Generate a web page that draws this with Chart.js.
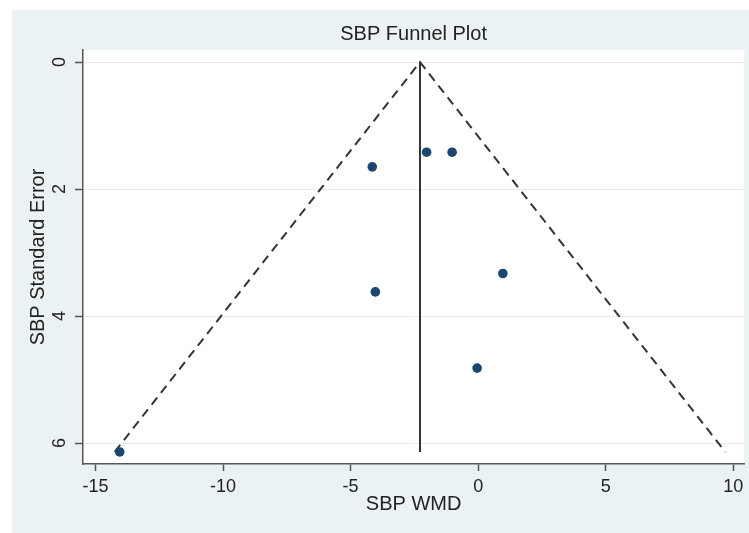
<!DOCTYPE html>
<html>
<head>
<meta charset="utf-8">
<title>SBP Funnel Plot</title>
<script src="https://cdn.jsdelivr.net/npm/chart.js@4.4.1/dist/chart.umd.min.js"></script>
<style>
  html, body { margin: 0; padding: 0; background: #fff; }
  canvas { display: block; }
</style>
</head>
<body>
<canvas id="funnelChart" width="749" height="533"></canvas>
<script>
// studies: weighted mean difference and its standard error
const wmd = [-4.15, -2.02, -1.02, -4.03, 0.97, -0.04, -14.05];
const se  = [1.65, 1.42, 1.42, 3.62, 3.33, 4.82, 6.14];

// pooled estimate line
const pooledX = [-2.28, -2.28];
const pooledY = [0, 6.14];

// pseudo 95% limits: left end, apex, right end
const limitX = [-14.25, -2.28, 9.69];
const limitY = [6.14, 0, 6.14];

const xTicks = [-15, -10, -5, 0, 5, 10];
const yTicks = [0, 2, 4, 6];

Chart.defaults.font.family = '"Liberation Sans", Arial, sans-serif';
Chart.defaults.color = '#222';

// light blue graph region with a white plot region, like Stata's s2color
const backdrop = {
    id: 'backdrop',
    beforeDraw(chart) {
        const { ctx, chartArea: a } = chart;
        ctx.save();
        ctx.fillStyle = '#ffffff';
        ctx.fillRect(0, 0, chart.width, chart.height);
        ctx.fillStyle = '#eaf2f3';
        ctx.fillRect(12, 10, chart.width - 12, chart.height - 10);
        ctx.fillStyle = '#ffffff';
        ctx.fillRect(a.left, a.top, a.right - a.left, a.bottom - a.top);
        ctx.restore();
    }
};

const ctx = document.getElementById('funnelChart').getContext('2d');
const funnelChart = new Chart(ctx, {
    type: 'scatter',
    data: {
        datasets: [{
            label: 'Studies',
            data: wmd.map((x, i) => ({ x: x, y: se[i] })),
            backgroundColor: '#1a476f',
            borderColor: '#1a476f',
            pointRadius: 4.8,
            pointBorderWidth: 0,
            order: 0
        }, {
            label: 'Pseudo 95% limits',
            data: limitX.map((x, i) => ({ x: x, y: limitY[i] })),
            showLine: true,
            borderColor: '#333333',
            borderWidth: 2,
            borderDash: [9, 6],
            pointRadius: 0,
            order: 1
        }, {
            label: 'Pooled',
            data: pooledX.map((x, i) => ({ x: x, y: pooledY[i] })),
            showLine: true,
            borderColor: '#333333',
            borderWidth: 2,
            pointRadius: 0,
            order: 1
        }]
    },
    options: {
        responsive: false,
        animation: false,
        devicePixelRatio: 1,
        layout: { padding: 0 },
        plugins: {
            legend: { display: false },
            tooltip: { enabled: false },
            title: {
                display: true,
                text: 'SBP Funnel Plot',
                fullSize: false,
                color: '#222',
                font: { size: 20, weight: 'normal' },
                padding: { top: 22, bottom: 4 }
            }
        },
        scales: {
            x: {
                type: 'linear',
                min: -15.49,
                max: 10.43,
                afterBuildTicks: function(scale) {
                    scale.ticks = xTicks.map(v => ({ value: v }));
                },
                afterFit: function(scale) {
                    scale.height = 69;
                },
                grid: {
                    drawOnChartArea: false,
                    tickLength: 7,
                    tickColor: '#555',
                    tickWidth: 1.5
                },
                border: { color: '#555', width: 1.5 },
                ticks: {
                    font: { size: 18 },
                    color: '#222',
                    padding: 5,
                    maxRotation: 0,
                    autoSkip: false
                },
                title: {
                    display: true,
                    text: 'SBP WMD',
                    color: '#222',
                    font: { size: 20 },
                    padding: { top: 0, bottom: 17 }
                }
            },
            y: {
                type: 'linear',
                reverse: true,
                min: -0.19,
                max: 6.33,
                afterBuildTicks: function(scale) {
                    scale.ticks = yTicks.map(v => ({ value: v }));
                },
                afterFit: function(scale) {
                    scale.width = 83;
                },
                grid: {
                    color: '#e6edef',
                    tickColor: '#555',
                    tickLength: 8,
                    tickWidth: 1.5
                },
                border: { color: '#555', width: 1.5 },
                ticks: {
                    font: { size: 18 },
                    color: '#222',
                    padding: 10,
                    minRotation: 90,
                    maxRotation: 90,
                    crossAlign: 'center',
                    autoSkip: false
                },
                title: {
                    display: true,
                    text: 'SBP Standard Error',
                    color: '#222',
                    font: { size: 20 },
                    padding: { top: 26, bottom: 0 }
                }
            }
        }
    },
    plugins: [backdrop]
});
</script>
</body>
</html>
